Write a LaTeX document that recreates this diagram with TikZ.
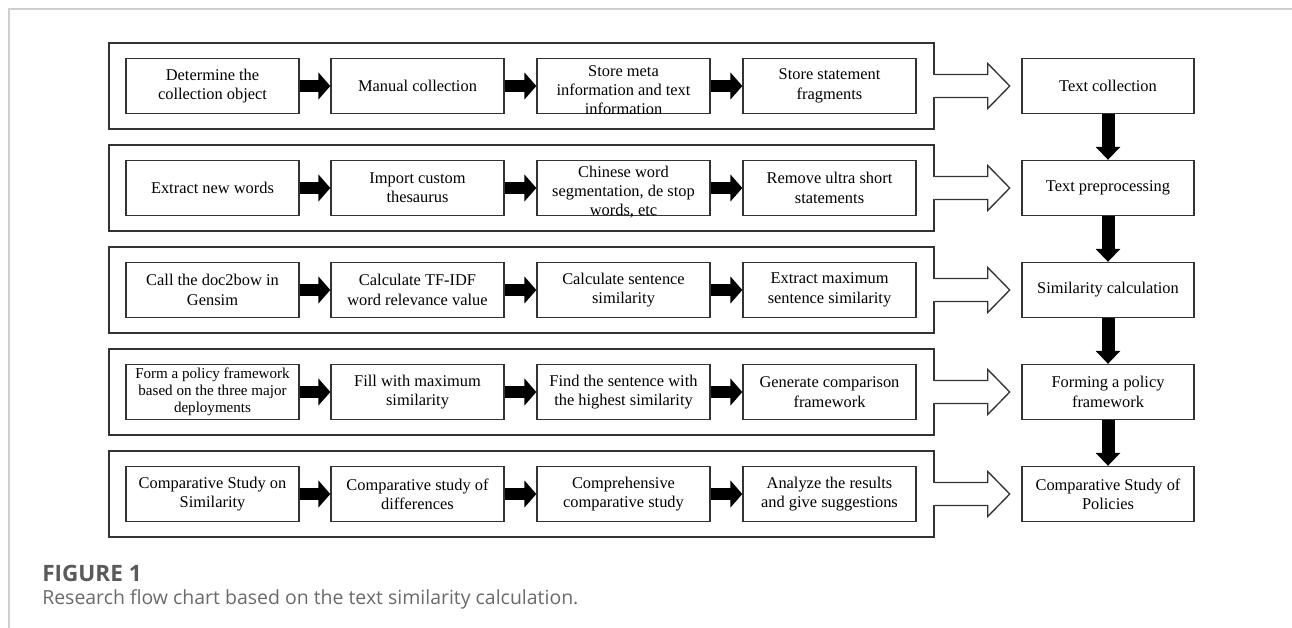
\documentclass[tikz,border=0pt]{standalone}
\usepackage{fontspec}
\setmainfont{Liberation Serif}
\newfontfamily\capfont{Open Sans}
\usetikzlibrary{calc,arrows.meta}
\definecolor{framegray}{HTML}{CFCFCF}
\definecolor{capgray}{HTML}{5A5A5A}
\definecolor{captxt}{HTML}{6A6A6A}
\newcommand{\fs}{\fontsize{12.3pt}{14.5pt}\selectfont}
\newcommand{\fsmall}{\fontsize{11.3pt}{12.8pt}\selectfont}
\tikzset{
  grp/.style={draw=black!80, line width=1.1pt, minimum width=618.75pt, minimum height=64.5pt, inner sep=0pt},
  box/.style={draw=black!80, line width=1pt, minimum width=129.75pt, minimum height=41.25pt, inner sep=0pt, align=center, font=\fs},
  rbox/.style={box, minimum width=129pt},
  txt/.style={inner sep=0pt, align=center, font=\fs},
  blk/.style={line width=9pt, -{Triangle[length=9pt,width=20pt]}},
  dblk/.style={line width=9.75pt, -{Triangle[length=9.75pt,width=18pt]}},
  hol/.style={draw=black!80, line width=1pt, fill=white, line join=miter}
}
\newcommand{\hollowarrow}[1]{%
  \fill[white] ($(#1.east)+(-1.5,-10.6)$) rectangle ($(#1.east)+(2,10.6)$);
  \draw[hol] ($(#1.east)+(0,-11.5)$) -- ($(#1.east)+(53,-11.5)$) -- ($(#1.east)+(53,-22.5)$)
    -- ($(#1.east)+(75,0)$) -- ($(#1.east)+(53,22.5)$) -- ($(#1.east)+(53,11.5)$) -- ($(#1.east)+(0,11.5)$);
}
\begin{document}
\begin{tikzpicture}[x=0.75pt,y=-0.75pt]
\useasboundingbox (0,0) rectangle (1292,628);
% page frame
\draw[framegray, line width=1.1pt] (9,628) -- (9,9) -- (1292,9);

% groups
\foreach \r/\yy in {1/86,2/188,3/290,4/392,5/494}{
  \node[grp] (g\r) at (521.5,\yy) {};
}

% row 1
\node[box] (b11) at (212.5,86) {Determine the\\collection object};
\node[box] (b12) at (417.5,86) {Manual collection};
\node[box] (b13) at (623.5,86) {};
\node[txt] at ($(b13.center)+(0,4)$) {Store meta\\information and text\\information};
\node[box] (b14) at (829.5,86) {Store statement\\fragments};
\node[rbox] (r1) at (1108,86) {Text collection};

% row 2
\node[box] (b21) at (212.5,188) {Extract new words};
\node[box] (b22) at (417.5,188) {Import custom\\thesaurus};
\node[box] (b23) at (623.5,188) {};
\node[txt] at ($(b23.center)+(0,4)$) {Chinese word\\segmentation, de stop\\words, etc};
\node[box] (b24) at (829.5,188) {Remove ultra short\\statements};
\node[rbox] (r2) at (1108,188) {Text preprocessing};

% row 3
\node[box] (b31) at (212.5,290) {Call the doc2bow in\\Gensim};
\node[box] (b32) at (417.5,290) {Calculate TF-IDF\\word relevance value};
\node[box] (b33) at (623.5,290) {Calculate sentence\\similarity};
\node[box] (b34) at (829.5,290) {Extract maximum\\sentence similarity};
\node[rbox] (r3) at (1108,290) {Similarity calculation};

% row 4
\node[box, font=\fsmall] (b41) at (212.5,392) {Form a policy framework\\based on the three major\\deployments};
\node[box] (b42) at (417.5,392) {Fill with maximum\\similarity};
\node[box] (b43) at (623.5,392) {Find the sentence with\\the highest similarity};
\node[box] (b44) at (829.5,392) {Generate comparison\\framework};
\node[rbox] (r4) at (1108,392) {Forming a policy\\framework};

% row 5
\node[box] (b51) at (212.5,494) {Comparative Study on\\Similarity};
\node[box] (b52) at (417.5,494) {Comparative study of\\differences};
\node[box] (b53) at (623.5,494) {Comprehensive\\comparative study};
\node[box] (b54) at (829.5,494) {Analyze the results\\and give suggestions};
\node[rbox] (r5) at (1108,494) {Comparative Study of\\Policies};

% black arrows inside rows
\foreach \r in {1,...,5}{
  \draw[blk] (b\r1.east) -- (b\r2.west);
  \draw[blk] (b\r2.east) -- (b\r3.west);
  \draw[blk] (b\r3.east) -- (b\r4.west);
  \hollowarrow{g\r}
}
% down arrows
\draw[dblk] (r1.south) -- (r2.north);
\draw[dblk] (r2.south) -- (r3.north);
\draw[dblk] (r3.south) -- (r4.north);
\draw[dblk] (r4.south) -- (r5.north);

% caption
\node[anchor=base west, inner sep=0pt, font={\capfont\bfseries\fontsize{16.9pt}{19pt}\selectfont}, text=capgray] (cap1) at (42,581) {FIGURE 1};
\node[anchor=base west, inner sep=0pt, font={\capfont\fontsize{14.6pt}{17pt}\selectfont}, text=captxt] (cap2) at (42,604) {Research flow chart based on the text similarity calculation.};
\end{tikzpicture}
\end{document}
